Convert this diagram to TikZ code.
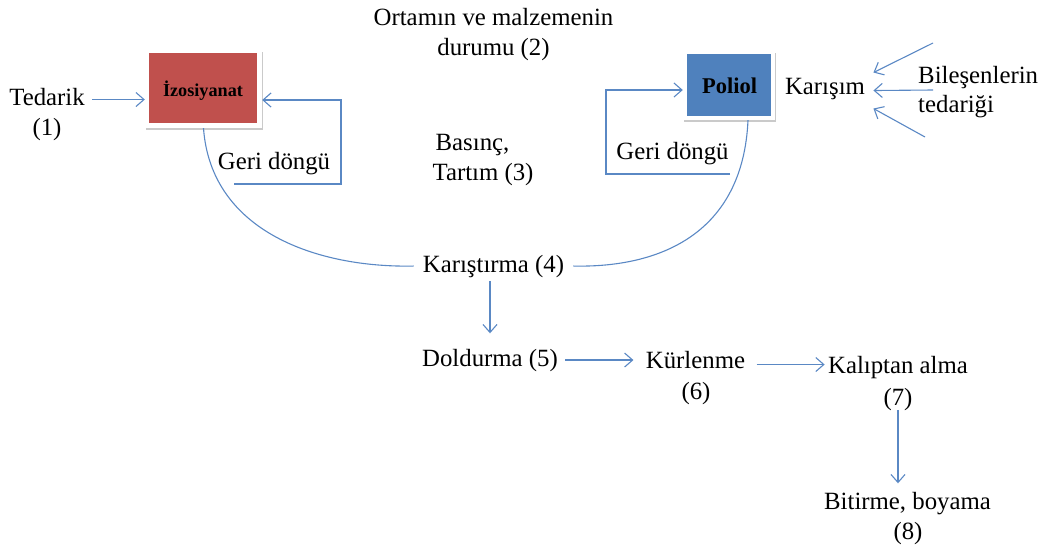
\documentclass[tikz,border=0pt]{standalone}
\usepackage{fontspec}
\setmainfont{Liberation Serif}
\usetikzlibrary{arrows.meta,shadows}
\definecolor{lineblue}{HTML}{5A88C4}
\definecolor{izored}{HTML}{C0504D}
\definecolor{polblue}{HTML}{4F81BD}
\tikzset{
  lbl/.style={anchor=base,inner sep=3.3pt,font=\fontsize{24.8}{30}\selectfont},
  lblw/.style={lbl,anchor=base west},
  arr/.style={draw=lineblue,line width=1.1pt,-{Straight Barb[length=8pt,width=14pt,line width=1.1pt]}},
  ln/.style={draw=lineblue,line width=1.1pt},
  frame/.style={draw=none,fill=white,inner sep=0pt,
    drop shadow={shadow xshift=1.2pt,shadow yshift=-1.6pt,opacity=.35,fill=black!60}},
  inner/.style={draw=none,inner sep=0pt,text=black},
}
\begin{document}
\begin{tikzpicture}[x=1pt,y=-1pt]
\useasboundingbox (0,0) rectangle (1046,552);
% boxes
\node[frame,minimum width=117pt,minimum height=78pt] (izo) at (203.5,89) {};
\node[inner,fill=izored,minimum width=108pt,minimum height=70pt] (izoin) at (203,88) {};
\node[lbl,font=\bfseries\fontsize{18.2}{22}\selectfont] (izot) at (203,96) {İzosiyanat};
\node[frame,minimum width=92pt,minimum height=69pt] (pol) at (729,85.5) {};
\node[inner,fill=polblue,minimum width=84pt,minimum height=62pt] (polin) at (729,85) {};
\node[lbl,font=\bfseries\fontsize{22.5}{26}\selectfont] (polt) at (729.5,93) {Poliol};
% texts
\node[lbl] (ted) at (47,105) {Tedarik};
\node[lbl] (ted1) at (47,135) {(1)};
\node[lbl] (ort) at (493.5,25) {Ortamın ve malzemenin};
\node[lbl] (ort2) at (493.5,55) {durumu (2)};
\node[lbl] (bas) at (472.5,150) {Basınç,};
\node[lbl] (tar) at (483,180) {Tartım (3)};
\node[lbl] (gdl) at (274,169) {Geri döngü};
\node[lbl] (gdr) at (672.5,159) {Geri döngü};
\node[lbl] (kari) at (825,94) {Karışım};
\node[lblw] (bil) at (914.7,83) {Bileşenlerin};
\node[lblw] (bil2) at (914.7,112) {tedariği};
\node[lbl,inner xsep=9pt] (kar) at (493.5,272) {Karıştırma (4)};
\node[lbl] (dol) at (490,366) {Doldurma (5)};
\node[lbl] (kur) at (695.5,368) {Kürlenme};
\node[lbl] (kur6) at (696,399) {(6)};
\node[lbl] (kal) at (898,373) {Kalıptan alma};
\node[lbl] (kal7) at (898,405) {(7)};
\node[lbl] (bit) at (907.5,509) {Bitirme, boyama};
\node[lbl] (bit8) at (908,539) {(8)};
% coordinates for free ends
\coordinate (fbl) at (234,184);
\coordinate (fbr) at (730,174);
\coordinate (b1) at (933,43);
\coordinate (b2) at (933,90);
\coordinate (b3) at (925,137);
% connectors
\draw[arr] ([shift={(4pt,-3pt)}]ted.east) -- ([yshift=-3pt]ted.east -| izo.west);
\draw[arr] (fbl) -- ++(107,0) |- ([yshift=-11pt]izo.east);
\draw[arr] (fbr) -- ++(-124,0) |- ([yshift=-4.5pt]pol.west);
\draw[arr] (b1) -- ([shift={(5pt,16pt)}]kari.east);
\draw[arr] (b2) -- ([shift={(5pt,-2pt)}]kari.east);
\draw[arr] (b3) -- ([shift={(5pt,-20pt)}]kari.east);
\draw[ln] (izo.south) .. controls (211,232) and (318,268) .. (kar.west);
\draw[ln] ([xshift=19pt]pol.south) .. controls (743,232) and (662,268) .. (kar.east);
\draw[arr] ([xshift=-3.5pt]kar.south) -- ([xshift=-3.5pt,yshift=12pt]kar.south |- dol.north);
\draw[arr] ([xshift=4pt]dol.east) -- ([xshift=-9pt]dol.east -| kur.west);
\draw[arr] ([shift={(8pt,-5pt)}]kur.east) -- ([yshift=-5pt]kur.east -| kal.west);
\draw[arr] ([yshift=4pt]kal7.south) -- ([yshift=5pt]kal7.south |- bit.north);
\end{tikzpicture}
\end{document}
